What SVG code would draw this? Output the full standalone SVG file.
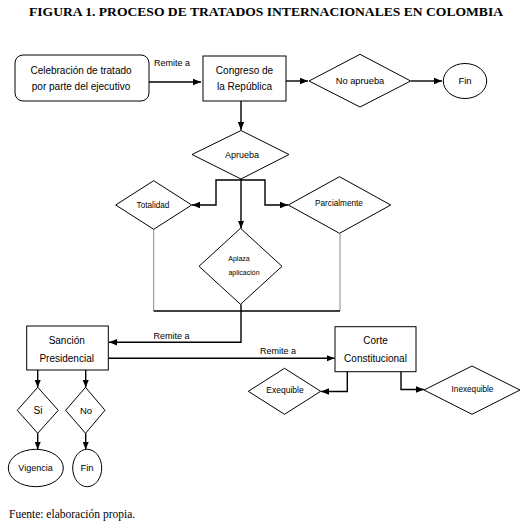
<svg xmlns="http://www.w3.org/2000/svg" width="526" height="528" viewBox="0 0 526 528">
<style>
.s{fill:#fff;stroke:#000;stroke-width:1}
.t{font-family:"Liberation Sans",Arial,sans-serif;fill:#000;text-anchor:middle}
.c{fill:none;stroke:#000;stroke-width:1.4}
.g{fill:none;stroke:#888;stroke-width:1}
</style>
<defs>
<marker id="a" viewBox="0 0 8 8" refX="8" refY="4" markerWidth="8" markerHeight="8" markerUnits="userSpaceOnUse" orient="auto">
<path d="M0,0.8 L8,4 L0,7.2 Z" fill="#000"/>
</marker>
</defs>
<rect width="526" height="528" fill="#fff"/>
<text x="266" y="16" font-family="Liberation Serif,serif" font-weight="bold" font-size="11.5" text-anchor="middle" textLength="474" lengthAdjust="spacingAndGlyphs">FIGURA 1. PROCESO DE TRATADOS INTERNACIONALES EN COLOMBIA</text>

<g id="connectors">
<line class="c" x1="149" y1="82" x2="201" y2="82" marker-end="url(#a)"/>
<text class="t" x="172" y="65.5" font-size="9">Remite a</text>
<line class="c" x1="286" y1="81" x2="308" y2="81" marker-end="url(#a)"/>
<line class="c" x1="411" y1="81" x2="442" y2="81" marker-end="url(#a)"/>
<line class="c" x1="241" y1="101" x2="241" y2="130" marker-end="url(#a)"/>
<polyline class="c" points="241,179 241,180 216,180 216,205 192,205" marker-end="url(#a)"/>
<polyline class="c" points="241,180 265,180 265,205 288,205" marker-end="url(#a)"/>
<line class="c" x1="241" y1="179" x2="241" y2="228.5" marker-end="url(#a)"/>
<polyline class="g" points="153.7,229.3 153.7,311"/>
<polyline class="g" points="340,233.3 340,311"/>
<line class="c" x1="153.7" y1="311" x2="340" y2="311" stroke-width="1.2"/>
<polyline class="c" points="241,304.3 241,342.3 109,342.3" marker-end="url(#a)"/>
<text class="t" x="171.5" y="339" font-size="9">Remite a</text>
<line class="c" x1="108.3" y1="358.3" x2="334.5" y2="358.3" marker-end="url(#a)"/>
<text class="t" x="278" y="354.3" font-size="9">Remite a</text>
<polyline class="c" points="347.3,371.7 347.3,391.5 321,391.5" marker-end="url(#a)"/>
<polyline class="c" points="401,371.7 401,389.5 424,389.5" marker-end="url(#a)"/>
<line class="c" x1="37.7" y1="370" x2="37.7" y2="387.5" marker-end="url(#a)"/>
<line class="c" x1="85.7" y1="370" x2="85.7" y2="387.5" marker-end="url(#a)"/>
<line class="c" x1="37.7" y1="433.3" x2="37.7" y2="449.5" marker-end="url(#a)"/>
<line class="c" x1="85.7" y1="433.3" x2="85.7" y2="449.5" marker-end="url(#a)"/>
</g>

<g id="celebracion">
<rect class="s" x="15" y="55" width="134" height="46" rx="8"/>
<text class="t" x="81" y="74" font-size="10">Celebración de tratado</text>
<text class="t" x="81" y="90" font-size="10">por parte del ejecutivo</text>
</g>
<g id="congreso">
<rect class="s" x="203" y="56" width="83" height="45"/>
<text class="t" x="244.5" y="73.5" font-size="10">Congreso de</text>
<text class="t" x="244.5" y="90" font-size="10">la República</text>
</g>
<g id="noaprueba">
<polygon class="s" points="309,81 360,54.3 410.7,81 360,107"/>
<text class="t" x="360" y="84" font-size="9.3">No aprueba</text>
</g>
<g id="fin1">
<ellipse class="s" cx="465" cy="81" rx="21.7" ry="17.5"/>
<text class="t" x="465" y="84" font-size="9.5">Fin</text>
</g>
<g id="aprueba">
<polygon class="s" points="192,154.5 241,130.5 289,154.5 241,179"/>
<text class="t" x="242" y="157.5" font-size="9">Aprueba</text>
</g>
<g id="totalidad">
<polygon class="s" points="115.7,205 153.7,180.7 191.7,205 153.7,229.3"/>
<text class="t" x="153" y="207.5" font-size="8.2">Totalidad</text>
</g>
<g id="parcialmente">
<polygon class="s" points="288.3,205 339.5,176.7 390.7,205 339.5,233.3"/>
<text class="t" x="339" y="206" font-size="8.2">Parcialmente</text>
</g>
<g id="aplaza">
<polygon class="s" points="199,266.3 240.5,228.3 282,266.3 240.5,304.3"/>
<text class="t" x="239" y="261" font-size="7">Aplaza</text>
<text class="t" x="244" y="274.5" font-size="7">aplicación</text>
</g>
<g id="sancion">
<rect class="s" x="26.7" y="326" width="81.6" height="44"/>
<text class="t" x="66.7" y="344.3" font-size="10">Sanción</text>
<text class="t" x="66.7" y="361.7" font-size="10">Presidencial</text>
</g>
<g id="corte">
<rect class="s" x="335" y="326.7" width="81" height="45"/>
<text class="t" x="375.5" y="344.3" font-size="10">Corte</text>
<text class="t" x="375.5" y="361.7" font-size="10">Constitucional</text>
</g>
<g id="exequible">
<polygon class="s" points="248.3,391.3 284.5,368.3 320.7,391.3 284.5,414.3"/>
<text class="t" x="285" y="393" font-size="8.5">Exequible</text>
</g>
<g id="inexequible">
<polygon class="s" points="424,390 472,366 520,390 472,414.3"/>
<text class="t" x="472.5" y="392.3" font-size="8.2">Inexequible</text>
</g>
<g id="si">
<polygon class="s" points="17.3,410.3 37.7,387.3 58.3,410.3 37.7,433.3"/>
<text class="t" x="38" y="413.5" font-size="10">Si</text>
</g>
<g id="no">
<polygon class="s" points="65.7,410.3 85.5,387.3 105,410.3 85.5,433.3"/>
<text class="t" x="86" y="413.5" font-size="9.5">No</text>
</g>
<g id="vigencia">
<ellipse class="s" cx="35.8" cy="468" rx="27.5" ry="18.7"/>
<text class="t" x="35.5" y="470.5" font-size="9">Vigencia</text>
</g>
<g id="fin2">
<ellipse class="s" cx="87.2" cy="468" rx="14.5" ry="18.7"/>
<text class="t" x="87" y="471" font-size="9.5">Fin</text>
</g>
<text x="9" y="518.3" font-family="Liberation Serif,serif" font-size="11.5">Fuente: elaboración propia.</text>
</svg>
